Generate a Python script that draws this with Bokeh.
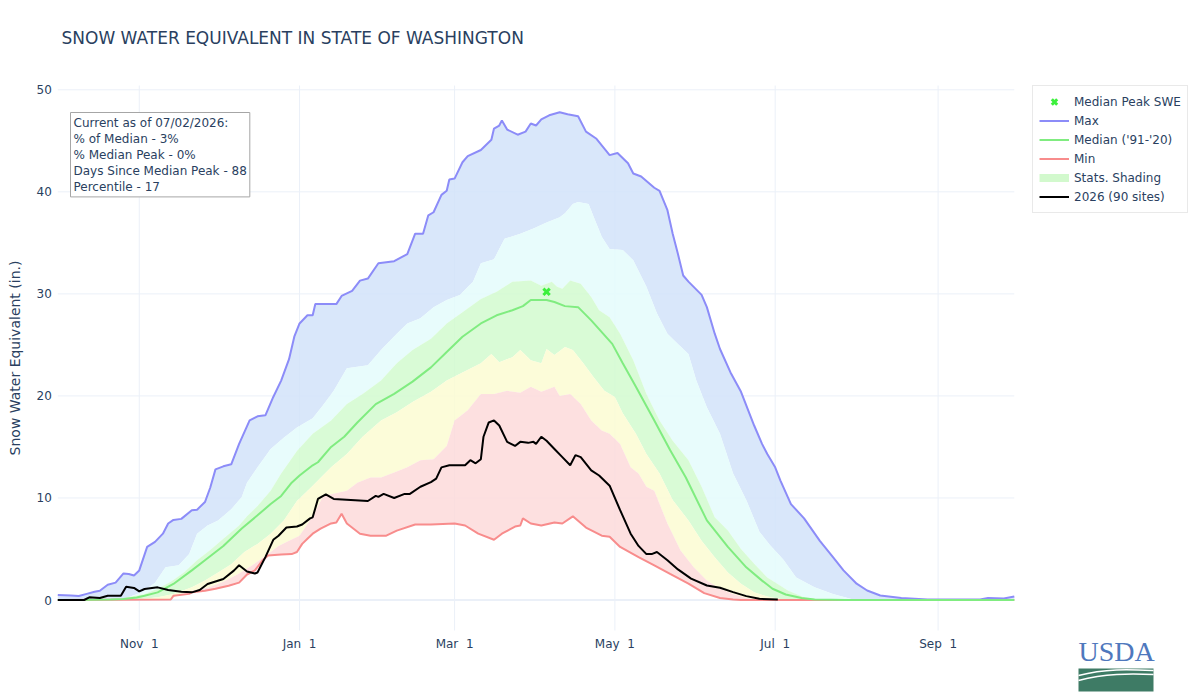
import numpy as np
import pandas as pd
from bokeh.plotting import figure
from bokeh.models import Range1d, FixedTicker, Label, Legend, LegendItem
from bokeh.embed import file_html
from bokeh.resources import INLINE

TITLE = "SNOW WATER EQUIVALENT IN STATE OF WASHINGTON"
Y_LABEL = "Snow Water Equivalent (in.)"
water_year_start = "2025-10-01"
water_year_end = "2026-09-30"
tick_dates = ["2025-11-01", "2026-01-01", "2026-03-01", "2026-05-01", "2026-07-01", "2026-09-01"]
tick_labels = ["Nov  1", "Jan  1", "Mar  1", "May  1", "Jul  1", "Sep  1"]
y_ticks = [0, 10, 20, 30, 40, 50]

# (day of water year since Oct 1, SWE in inches)
max_pts = [(0, 0.5), (5, 0.45), (8, 0.4), (11, 0.6), (14, 0.8), (16, 0.9), (19, 1.5), (22, 1.7), (25, 2.6), (27, 2.55),
           (29, 2.4), (31, 2.9), (34, 5.2), (37, 5.7), (40, 6.5), (42, 7.5), (44, 7.85), (47, 7.95), (51, 8.8), (53, 8.85),
           (56, 9.6), (58, 11.0), (60, 12.8), (63, 13.1), (66, 13.3), (69, 15.3), (73, 17.6), (76, 18.0), (79, 18.1), (82, 19.9),
           (85, 21.5), (88, 23.6), (90, 25.8), (92, 27.1), (95, 27.9), (97, 27.9), (98, 29.0), (106, 29.0), (108, 29.8), (112, 30.3),
           (115, 31.3), (118, 31.5), (122, 33.0), (128, 33.2), (133, 33.9), (136, 35.9), (139, 35.9), (141, 37.7), (143, 38.0), (146, 39.7),
           (148, 40.1), (149, 41.2), (151, 41.3), (154, 42.9), (156, 43.5), (161, 44.1), (165, 45.1), (166, 46.2), (168, 46.5), (169, 47.0),
           (171, 46.1), (175, 45.6), (178, 45.9), (180, 46.7), (182, 46.5), (184, 47.1), (187, 47.5), (191, 47.8), (194, 47.6), (198, 47.4),
           (201, 45.9), (205, 45.2), (210, 43.6), (213, 43.8), (217, 42.8), (219, 41.8), (222, 41.5), (227, 40.4), (229, 40.1), (232, 38.2),
           (234, 35.9), (236, 33.9), (238, 31.8), (240, 31.2), (245, 29.9), (247, 28.7), (250, 26.1), (252, 24.6), (256, 22.3), (260, 20.4),
           (265, 17.1), (268, 15.3), (270, 14.3), (273, 13.0), (275, 11.7), (279, 9.4), (284, 8.0), (290, 5.8), (295, 4.2), (299, 2.9),
           (304, 1.6), (308, 0.93), (313, 0.44), (321, 0.2), (331, 0.05), (351, 0.05), (354, 0.2), (360, 0.15), (364, 0.34)]

p90_pts = [(0, 0), (20, 0.02), (25, 0.1), (32, 0.75), (37, 1.7), (41, 3.2), (46, 3.4), (50, 4.5), (53, 6.5), (57, 7.3),
           (61, 7.8), (66, 8.9), (70, 10.1), (72, 11.5), (76, 13.0), (81, 14.8), (86, 15.9), (91, 16.9), (97, 17.8), (101, 19.1),
           (105, 20.5), (110, 22.7), (118, 23.0), (123, 24.5), (129, 26.1), (133, 27.1), (138, 27.6), (143, 28.7), (148, 29.4), (153, 29.9),
           (158, 31.2), (161, 33.0), (166, 33.4), (170, 35.4), (176, 35.9), (181, 36.4), (186, 37.0), (191, 37.5), (193, 37.9), (196, 38.8),
           (198, 39.0), (202, 38.8), (204, 37.5), (207, 35.6), (210, 34.4), (215, 34.3), (219, 33.3), (224, 30.7), (228, 28.1), (232, 26.1),
           (236, 25.1), (240, 24.1), (243, 21.5), (247, 18.9), (252, 16.3), (257, 12.4), (262, 9.8), (267, 6.7), (271, 5.4), (276, 4.0),
           (281, 2.2), (288, 1.26), (295, 0.6), (302, 0.11), (306, 0), (364, 0)]

p70_pts = [(0, 0), (20, 0.05), (25, 0.2), (33, 0.6), (38, 1.1), (43, 1.8), (48, 2.7), (53, 3.9), (58, 4.9), (63, 6.0),
           (69, 7.3), (72, 8.2), (76, 9.2), (81, 10.7), (85, 12.4), (91, 14.6), (97, 16.3), (104, 17.6), (110, 19.2), (116, 20.2),
           (123, 21.5), (129, 23.2), (135, 24.5), (142, 25.6), (148, 27.1), (154, 28.2), (161, 29.5), (167, 30.2), (173, 31.2), (180, 31.3),
           (184, 30.8), (188, 31.2), (190, 30.7), (192, 30.5), (195, 31.3), (199, 31.0), (203, 29.7), (206, 28.4), (210, 27.7), (214, 26.1),
           (219, 23.5), (224, 20.2), (229, 17.6), (234, 15.6), (240, 13.7), (245, 11.1), (250, 8.1), (255, 6.8), (260, 5.0), (265, 3.55),
           (270, 2.2), (275, 1.4), (278, 0.9), (284, 0.28), (290, 0.05), (295, 0), (364, 0)]

median_pts = [(0, 0), (12, 0.02), (20, 0.05), (25, 0.1), (30, 0.25), (33, 0.42), (38, 0.75), (44, 1.57), (51, 2.9), (56, 3.9),
              (63, 5.3), (70, 7.0), (76, 8.3), (81, 9.4), (85, 10.2), (89, 11.5), (92, 12.2), (97, 13.2), (99, 13.5), (104, 15.0),
              (109, 16.0), (114, 17.4), (121, 19.2), (128, 20.2), (135, 21.4), (142, 22.8), (148, 24.3), (154, 25.8), (161, 27.1), (167, 27.9),
              (173, 28.4), (177, 28.8), (180, 29.4), (186, 29.4), (189, 29.2), (193, 28.8), (198, 28.7), (203, 27.4), (211, 25.1), (215, 23.2),
              (220, 20.9), (227, 17.6), (233, 14.7), (239, 12.0), (247, 7.8), (255, 5.2), (262, 3.2), (268, 1.9), (272, 1.1), (277, 0.54),
              (283, 0.2), (288, 0.05), (300, 0), (364, 0)]

p30_pts = [(0, 0), (30, 0.05), (38, 0.26), (44, 0.6), (51, 1.24), (56, 1.9), (61, 2.7), (66, 3.5), (71, 4.7), (76, 5.5),
           (81, 6.5), (86, 7.8), (91, 9.7), (97, 11.2), (104, 13.0), (110, 14.3), (116, 16.0), (123, 17.6), (129, 18.4), (135, 19.4),
           (142, 20.4), (148, 21.5), (154, 22.3), (161, 23.2), (165, 24.1), (168, 23.3), (173, 23.8), (176, 24.5), (180, 23.5), (184, 23.2),
           (186, 24.6), (189, 24.0), (193, 24.8), (196, 24.5), (200, 23.2), (204, 21.8), (208, 20.5), (212, 19.9), (215, 18.3), (220, 16.3),
           (224, 14.3), (229, 12.4), (234, 9.8), (240, 7.8), (245, 5.8), (250, 4.2), (255, 2.7), (260, 1.6), (265, 0.77), (270, 0.34),
           (275, 0.1), (280, 0), (364, 0)]

p10_pts = [(0, 0), (43, 0.02), (45, 0.45), (51, 0.9), (57, 1.2), (63, 1.8), (69, 2.6), (74, 3.4), (79, 4.3), (84, 5.3),
           (88, 5.8), (92, 6.3), (97, 8.2), (101, 10.2), (110, 10.7), (114, 11.5), (119, 12.0), (123, 12.0), (128, 12.5), (133, 13.0),
           (138, 13.7), (143, 13.8), (148, 15.1), (151, 17.6), (156, 18.6), (161, 20.2), (166, 20.2), (171, 20.5), (176, 20.3), (180, 20.9),
           (184, 20.4), (189, 20.9), (191, 20.0), (195, 20.2), (199, 19.2), (203, 17.6), (207, 16.6), (210, 16.3), (214, 15.3), (218, 13.0),
           (221, 12.4), (224, 11.1), (227, 10.7), (232, 7.5), (237, 4.85), (242, 3.2), (247, 1.9), (252, 1.1), (257, 0.6), (262, 0.2),
           (267, 0.05), (270, 0), (364, 0)]

min_pts = [(0, 0), (43, 0.05), (44, 0.42), (50, 0.6), (51, 0.75), (56, 0.9), (60, 1.1), (65, 1.4), (69, 1.7), (72, 2.5),
           (75, 2.9), (78, 3.9), (80, 4.35), (85, 4.46), (89, 4.5), (91, 4.7), (93, 5.5), (95, 6.0), (97, 6.5), (100, 7.0),
           (104, 7.5), (106, 7.6), (108, 8.45), (110, 7.5), (115, 6.5), (119, 6.3), (125, 6.3), (129, 6.8), (136, 7.4), (142, 7.4),
           (151, 7.5), (155, 7.3), (160, 6.5), (166, 5.9), (169, 6.5), (174, 7.2), (176, 7.3), (177, 8.0), (180, 7.5), (184, 7.3),
           (189, 7.6), (192, 7.5), (196, 8.2), (201, 7.1), (207, 6.3), (210, 6.2), (214, 5.2), (221, 4.2), (227, 3.4), (233, 2.55),
           (240, 1.6), (246, 0.67), (252, 0.2), (257, 0.05), (260, 0), (364, 0)]

wy2026_pts = [(0, 0), (10, 0), (12, 0.26), (16, 0.2), (19, 0.42), (24, 0.42), (26, 1.3), (29, 1.18), (31, 0.85), (33, 1.08),
              (38, 1.24), (42, 0.98), (47, 0.82), (51, 0.75), (54, 0.98), (57, 1.57), (63, 2.06), (67, 2.88), (69, 3.4), (72, 2.8),
              (75, 2.6), (76, 2.7), (79, 4.2), (82, 5.9), (84, 6.3), (87, 7.1), (91, 7.2), (93, 7.4), (96, 8.0), (97, 8.1),
              (99, 9.9), (101, 10.2), (102, 10.35), (105, 9.9), (118, 9.7), (121, 10.2), (122, 10.1), (124, 10.4), (128, 10.0), (132, 10.4),
              (134, 10.4), (138, 11.1), (142, 11.55), (144, 11.9), (146, 13.0), (149, 13.2), (155, 13.2), (157, 13.7), (159, 13.4), (161, 13.8),
              (162, 16.0), (164, 17.4), (166, 17.6), (168, 17.1), (171, 15.5), (174, 15.1), (176, 15.5), (179, 15.4), (181, 15.5), (182, 15.3),
              (184, 16.0), (186, 15.6), (189, 14.8), (192, 14.0), (195, 13.2), (197, 14.2), (199, 14.0), (203, 12.7), (206, 12.2), (210, 11.2),
              (214, 8.8), (218, 6.5), (221, 5.3), (224, 4.5), (226, 4.5), (228, 4.7), (232, 3.9), (236, 3.0), (241, 2.1), (247, 1.42),
              (252, 1.2), (257, 0.77), (262, 0.38), (267, 0.12), (274, 0.05)]

median_peak = (186, 30.2)

stats_lines = ["Current as of 07/02/2026:", "% of Median - 3%", "% Median Peak - 0%",
               "Days Since Median Peak - 88", "Percentile - 17"]

legend_labels = ["Median Peak SWE", "Max", "Median ('91-'20)", "Min", "Stats. Shading", "2026 (90 sites)"]
logo_word = "USDA"

TXT = "#2a3f5f"
FONT = "DejaVu Sans"
C_MAX, C_MED, C_MIN, C_CUR, C_PEAK, C_SHADE = "#8c8cf8", "#80ec80", "#f88c8c", "#000000", "#3cf03c", "#d2f9cd"
GRID = "#ebf0f8"

# ---- page geometry (pixels of the 1200x700 canvas) ----
W, H = 1200, 700
AREA_L, AREA_R, AREA_T, AREA_B = 57.3, 1013.8, 85.0, 630.0   # plot area edges
Y0_PX, Y50_PX = 599.5, 89.3                                  # pixel rows of y=0 and y=50

base = pd.Timestamp(water_year_start)
end = pd.Timestamp(water_year_end)
span_days = (end - base).days
px_per_day = (AREA_R - AREA_L) / span_days
px_per_in = (Y0_PX - Y50_PX) / 50.0


def px_to_date(px):
    return base + pd.Timedelta(days=(px - AREA_L) / px_per_day)


def py_to_val(py):
    return (Y0_PX - py) / px_per_in


def xs(pts):
    return [base + pd.Timedelta(days=d) for d, _ in pts]


def ys(pts):
    return [v for _, v in pts]


y_lo, y_hi = py_to_val(AREA_B), py_to_val(AREA_T)

p = figure(width=W, height=H, x_axis_type="datetime", output_backend="svg", toolbar_location=None,
           min_border_left=0, min_border_right=0, min_border_top=0, min_border_bottom=0,
           x_range=Range1d(px_to_date(0), px_to_date(W)),
           y_range=Range1d(py_to_val(H), py_to_val(0)))
p.outline_line_color = None
p.background_fill_color = "white"
p.border_fill_color = "white"
p.grid.visible = False

# grid lines of the plot area
gx = [pd.Timestamp(t) for t in tick_dates]
p.segment(x0=gx, y0=[y_lo] * len(gx), x1=gx, y1=[y_hi] * len(gx), line_color=GRID, line_width=1)
p.segment(x0=[base] * len(y_ticks), y0=y_ticks, x1=[end] * len(y_ticks), y1=y_ticks, line_color=GRID, line_width=1)
p.segment(x0=[base], y0=[0], x1=[end], y1=[0], line_color=GRID, line_width=2)

# shaded statistics bands
bands = [(max_pts, p90_pts, "#d2e3f9"), (p90_pts, p70_pts, "#e4fcfc"), (p70_pts, p30_pts, "#d2facf"),
         (p30_pts, p10_pts, "#fcfcd2"), (p10_pts, min_pts, "#fddbdb")]
for up, lo, col in bands:
    p.patch(xs(up) + xs(lo)[::-1], ys(up) + ys(lo)[::-1], fill_color=col, fill_alpha=0.85, line_color=None)

r_max = p.line(xs(max_pts), ys(max_pts), line_color=C_MAX, line_width=2)
r_min = p.line(xs(min_pts), ys(min_pts), line_color=C_MIN, line_width=2)
r_med = p.line(xs(median_pts), ys(median_pts), line_color=C_MED, line_width=2)
# legend swatch for the shading (no visible data of its own)
r_shade = p.line(x=[base, base], y=np.array([np.nan, np.nan]), line_color=C_SHADE, line_width=8)
r_cur = p.line(xs(wy2026_pts), ys(wy2026_pts), line_color=C_CUR, line_width=2)
r_peak = p.scatter([base + pd.Timedelta(days=median_peak[0])], [median_peak[1]], marker="x",
                   size=9, line_width=3, line_color=C_PEAK)

# axes, fixed at the plot-area edges
tick_ms = [int(pd.Timestamp(t).value // 10**6) for t in tick_dates]
p.xaxis.ticker = FixedTicker(ticks=tick_ms)
p.xaxis.major_label_overrides = {t: lab.replace("  ", "\u00a0 ") for t, lab in zip(tick_ms, tick_labels)}
p.xaxis.fixed_location = y_lo
p.xaxis.bounds = (base, end)
p.yaxis.ticker = FixedTicker(ticks=y_ticks)
p.yaxis.fixed_location = float(base.value // 10**6)
p.yaxis.bounds = (y_lo, y_hi)
p.yaxis.axis_label = Y_LABEL
for ax in (p.xaxis[0], p.yaxis[0]):
    ax.axis_line_color = None
    ax.major_tick_line_color = None
    ax.minor_tick_line_color = None
    ax.major_tick_out = 0
    ax.major_tick_in = 0
    ax.minor_tick_out = 0
    ax.major_label_text_font = FONT
    ax.major_label_text_font_size = "12px"
    ax.major_label_text_color = TXT
    ax.axis_label_text_font = FONT
    ax.axis_label_text_font_size = "14px"
    ax.axis_label_text_font_style = "normal"
    ax.axis_label_text_color = TXT
p.xaxis.major_label_standoff = 6
p.yaxis.major_label_standoff = 6
p.yaxis.axis_label_standoff = 10

# title
p.add_layout(Label(x=61, y=H - 37, x_units="screen", y_units="screen", text=TITLE,
                   text_font=FONT, text_font_size="17px", text_color=TXT, text_baseline="middle"))

# statistics box
p.add_layout(Label(x=70, y=H - 112, x_units="screen", y_units="screen", text="\n".join(stats_lines),
                   text_font=FONT, text_font_size="12px", text_color=TXT, text_baseline="top",
                   text_align="left", text_line_height=1.15, padding=3,
                   background_fill_color="white", background_fill_alpha=1,
                   border_line_color="#a6a6a6", border_line_width=1))

# legend
legend = Legend(items=[LegendItem(label=lab, renderers=[r]) for lab, r in
                       zip(legend_labels, [r_peak, r_max, r_med, r_min, r_shade, r_cur])],
                location=(1032, H - 213))
legend.label_text_font = FONT
legend.label_text_font_size = "12px"
legend.label_text_color = TXT
legend.label_height = 19
legend.glyph_height = 19
legend.glyph_width = 30
legend.label_standoff = 5
legend.spacing = 0
legend.padding = 6
legend.margin = 0
legend.border_line_color = "#d4d4d4"
legend.border_line_width = 1.5
legend.background_fill_color = "white"
legend.background_fill_alpha = 1
p.add_layout(legend)

# USDA mark
p.add_layout(Label(x=1078, y=H - 651, x_units="screen", y_units="screen", text=logo_word,
                   text_font="Liberation Serif", text_font_size="28px", text_color="#4f78bd",
                   text_baseline="alphabetic"))
p.quad(left=[px_to_date(1078)], right=[px_to_date(1153)], top=[py_to_val(668)], bottom=[py_to_val(691)],
       fill_color="#3e7b65", line_color=None)
p.bezier(x0=[px_to_date(1078)] * 2, y0=[py_to_val(675), py_to_val(680)],
         x1=[px_to_date(1153)] * 2, y1=[py_to_val(670), py_to_val(674)],
         cx0=[px_to_date(1105)] * 2, cy0=[py_to_val(668), py_to_val(673)],
         cx1=[px_to_date(1128)] * 2, cy1=[py_to_val(669), py_to_val(673)],
         line_color="white", line_width=1.5)

open("out.html", "w").write(file_html(p, INLINE))
